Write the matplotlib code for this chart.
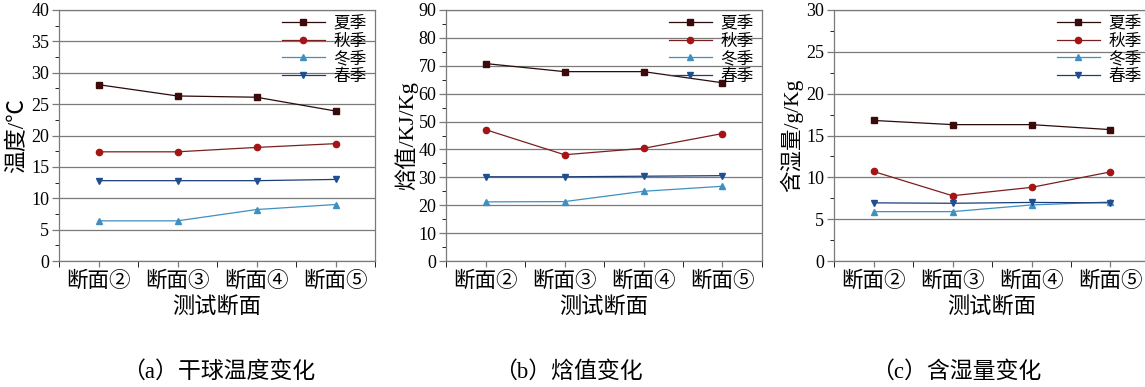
import matplotlib
matplotlib.use('Agg')
import matplotlib.pyplot as plt
from matplotlib.ticker import MultipleLocator
import numpy as np

plt.rcParams['font.family'] = ['Liberation Serif', 'Noto Sans CJK SC']
plt.rcParams['axes.unicode_minus'] = False

sections = ['断面②', '断面③', '断面④', '断面⑤']
seasons = ['夏季', '秋季', '冬季', '春季']

# dry-bulb temperature, °C
temp_summer = [28.1, 26.3, 26.1, 23.9]
temp_autumn = [17.4, 17.4, 18.1, 18.7]
temp_winter = [6.4, 6.4, 8.2, 9.0]
temp_spring = [12.8, 12.8, 12.8, 13.0]

# enthalpy, kJ/kg
enth_summer = [70.8, 67.9, 67.9, 63.9]
enth_autumn = [47.1, 38.1, 40.4, 45.7]
enth_winter = [21.2, 21.3, 25.0, 26.8]
enth_spring = [30.2, 30.2, 30.4, 30.6]

# moisture content, g/kg
hum_summer = [16.8, 16.3, 16.3, 15.7]
hum_autumn = [10.7, 7.8, 8.8, 10.65]
hum_winter = [5.9, 5.9, 6.7, 7.05]
hum_spring = [6.95, 6.9, 7.0, 6.95]

line_colors = ['#2a0a0a', '#7a1f1f', '#3f8fc0', '#1b3d78']
marker_colors = ['#3c0a0a', '#a51515', '#3f8fc0', '#1f4f90']
markers = ['s', 'o', '^', 'v']
grey = '#7a7a7a'

panels = [
    dict(series=[temp_summer, temp_autumn, temp_winter, temp_spring],
         ylim=40, major=5, ylabel='温度/℃', caption='（a）干球温度变化',
         left=59, ylab_x=18, ylab_size=16.5, cap_x=219),
    dict(series=[enth_summer, enth_autumn, enth_winter, enth_spring],
         ylim=90, major=10, ylabel='焓值/KJ/Kg', caption='（b）焓值变化',
         left=446, ylab_x=406, ylab_size=16, cap_x=568),
    dict(series=[hum_summer, hum_autumn, hum_winter, hum_spring],
         ylim=30, major=5, ylabel='含湿量/g/Kg', caption='（c）含湿量变化',
         left=834, ylab_x=792, ylab_size=15.5, cap_x=956),
]

W, H = 1145, 387
AX_W, AX_TOP, AX_BOT = 316, 10, 261
fig = plt.figure(figsize=(W / 100, H / 100), dpi=100)

x = np.arange(len(sections))
for p in panels:
    ax = fig.add_axes([p['left'] / W, (H - AX_BOT) / H, AX_W / W, (AX_BOT - AX_TOP) / H])
    for vals, lc, mc, m, name in zip(p['series'], line_colors, marker_colors, markers, seasons):
        ax.plot(x, vals, color=lc, lw=0.9, marker=m, markersize=4.5,
                markerfacecolor=mc, markeredgecolor=mc, label=name, zorder=3)

    ax.set_xlim(-0.5, len(sections) - 0.5)
    ax.set_ylim(0, p['ylim'])
    ax.yaxis.set_major_locator(MultipleLocator(p['major']))
    ax.yaxis.set_minor_locator(MultipleLocator(p['major'] / 2))
    ax.set_xticks(x)
    ax.set_xticklabels(sections, fontsize=15.5)
    ax.set_xticks(np.arange(-0.5, len(sections)), minor=True)
    ax.tick_params(axis='both', direction='out', color=grey, width=0.9)
    ax.tick_params(axis='y', which='major', length=5, labelsize=13, pad=2)
    ax.tick_params(axis='y', which='minor', length=3)
    ax.tick_params(axis='x', which='major', length=4, pad=4)
    ax.tick_params(axis='x', which='minor', length=4)
    ax.grid(axis='y', which='major', color=grey, lw=0.9, zorder=1)
    for s in ax.spines.values():
        s.set_color(grey)
        s.set_linewidth(0.9)

    ax.set_xlabel('测试断面', fontsize=16)
    ax.xaxis.set_label_coords(0.5, (AX_BOT - 307) / (AX_BOT - AX_TOP))
    ax.xaxis.label.set_va('center')
    ax.set_ylabel(p['ylabel'], fontsize=p['ylab_size'])
    ax.yaxis.set_label_coords((p['ylab_x'] - p['left']) / AX_W, 0.5)
    ax.yaxis.label.set_va('center')

    leg = ax.legend(loc='upper right', frameon=False, fontsize=12,
                    handlelength=2.6, handletextpad=0.5, labelspacing=0.1,
                    borderaxespad=0.1, bbox_to_anchor=(1.0, 1.01))
    leg.set_zorder(5)

    fig.text(p['cap_x'] / W, 1 - 372 / H, p['caption'], fontsize=16.5,
             ha='center', va='center')

fig.savefig('out.png', dpi=100)
